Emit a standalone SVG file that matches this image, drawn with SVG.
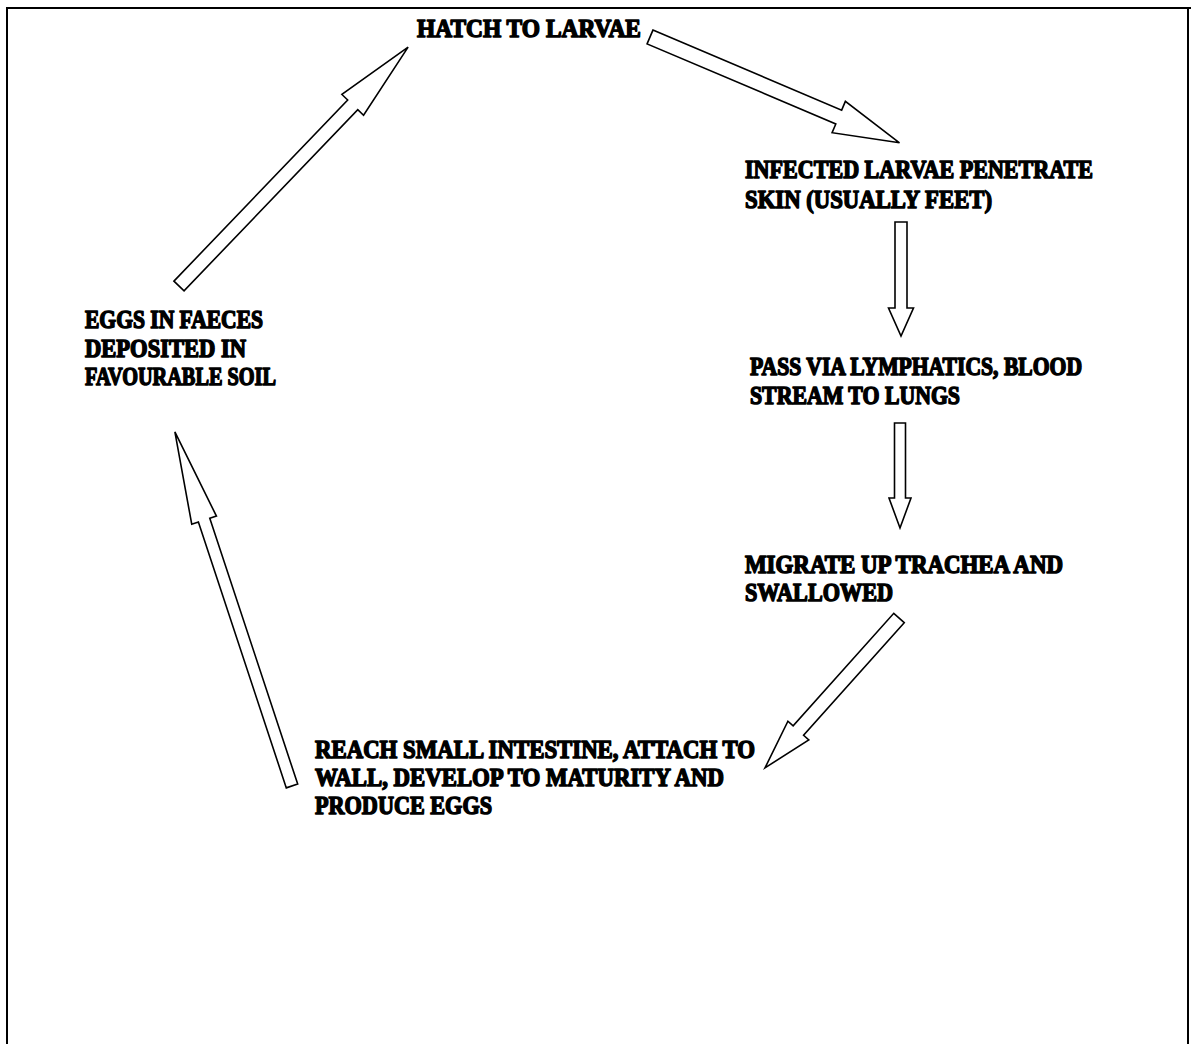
<svg xmlns="http://www.w3.org/2000/svg" width="1191" height="1044" viewBox="0 0 1191 1044">
<style>
.t{font-family:"Liberation Serif","Times New Roman",serif;font-weight:bold;font-size:25px;fill:#000;stroke:#000;stroke-width:1.5;stroke-linejoin:round}
.a{fill:#fff;stroke:#000;stroke-width:1.6;stroke-linejoin:miter}
.b{fill:none;stroke:#000;stroke-width:2}
</style>
<rect width="1191" height="1044" fill="#fff"/>
<path class="b" d="M7,1044 V8 H1191 M1188,8 V1044"/>
<g id="connectors">
<path class="a" transform="translate(179,286) rotate(-46.2)" d="M0,-7 L251,-7 L251,-15 L331,0 L251,15 L251,7 L0,7 Z"/>
<path class="a" transform="translate(650,37) rotate(22.98)" d="M0,-7.5 L205,-7.5 L205,-17 L271,0 L205,17 L205,7.5 L0,7.5 Z"/>
<path class="a" transform="translate(901,222) rotate(90)" d="M0,-6 L86,-6 L86,-12.5 L114,0 L86,12.5 L86,6 L0,6 Z"/>
<path class="a" transform="translate(900,423) rotate(90)" d="M0,-5.5 L75,-5.5 L75,-11 L105,0 L75,11 L75,5.5 L0,5.5 Z"/>
<path class="a" transform="translate(899,618) rotate(131.8)" d="M0,-7 L151,-7 L151,-14 L201,0 L151,14 L151,7 L0,7 Z"/>
<path class="a" transform="translate(292,786) rotate(-108.3)" d="M0,-6 L280,-6 L280,-13 L373,0 L280,13 L280,6 L0,6 Z"/>
</g>
<g id="hatch">
<text class="t" x="417" y="37" textLength="224" lengthAdjust="spacingAndGlyphs">HATCH TO LARVAE</text>
</g>
<g id="infected">
<text class="t" x="745" y="178" textLength="348" lengthAdjust="spacingAndGlyphs">INFECTED LARVAE PENETRATE</text>
<text class="t" x="745" y="208" textLength="247" lengthAdjust="spacingAndGlyphs">SKIN (USUALLY FEET)</text>
</g>
<g id="pass">
<text class="t" x="750" y="375" textLength="332" lengthAdjust="spacingAndGlyphs">PASS VIA LYMPHATICS, BLOOD</text>
<text class="t" x="750" y="404" textLength="210" lengthAdjust="spacingAndGlyphs">STREAM TO LUNGS</text>
</g>
<g id="migrate">
<text class="t" x="745" y="573" textLength="318" lengthAdjust="spacingAndGlyphs">MIGRATE UP TRACHEA AND</text>
<text class="t" x="745" y="601" textLength="148" lengthAdjust="spacingAndGlyphs">SWALLOWED</text>
</g>
<g id="reach">
<text class="t" x="315" y="758" textLength="440" lengthAdjust="spacingAndGlyphs">REACH SMALL INTESTINE, ATTACH TO</text>
<text class="t" x="315" y="786" textLength="409" lengthAdjust="spacingAndGlyphs">WALL, DEVELOP TO MATURITY AND</text>
<text class="t" x="315" y="814" textLength="177" lengthAdjust="spacingAndGlyphs">PRODUCE EGGS</text>
</g>
<g id="eggs">
<text class="t" x="85" y="328" textLength="178" lengthAdjust="spacingAndGlyphs">EGGS IN FAECES</text>
<text class="t" x="85" y="357" textLength="161" lengthAdjust="spacingAndGlyphs">DEPOSITED IN</text>
<text class="t" x="85" y="385" textLength="191" lengthAdjust="spacingAndGlyphs">FAVOURABLE SOIL</text>
</g>
</svg>
